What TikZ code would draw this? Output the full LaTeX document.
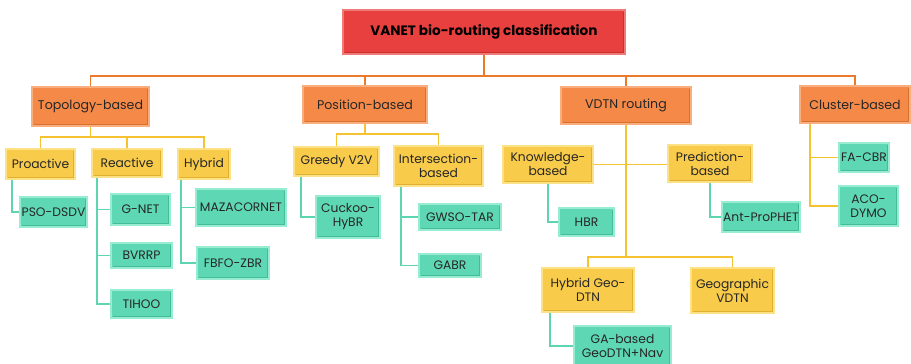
\documentclass[tikz,border=0pt]{standalone}
\usepackage{fontspec}
\setmainfont{Poppins}
\usetikzlibrary{calc}
\definecolor{rootF}{HTML}{E8403F}
\definecolor{rootB}{HTML}{F07A78}
\definecolor{rootD}{HTML}{C83030}
\definecolor{oraF}{HTML}{F58A48}
\definecolor{oraB}{HTML}{F9AE80}
\definecolor{oraD}{HTML}{D8702E}
\definecolor{yelF}{HTML}{F8CB4A}
\definecolor{yelB}{HTML}{FCE186}
\definecolor{yelD}{HTML}{E0B030}
\definecolor{teaF}{HTML}{5ED8B4}
\definecolor{teaB}{HTML}{98ECD2}
\definecolor{teaD}{HTML}{44BC98}
\definecolor{lnO}{HTML}{EA7A2C}
\definecolor{lnY}{HTML}{F5C232}
\definecolor{lnT}{HTML}{5ED4B0}
\definecolor{txt}{HTML}{262626}
\tikzset{
  base/.style={rectangle, inner sep=0pt, align=center, text=txt, font=\fontsize{12.3}{14}\selectfont, line width=1.6pt},
  bevel/.style={path picture={\draw[#1, line width=2pt] ([xshift=1.5pt,yshift=1pt]path picture bounding box.south west) -- ([xshift=-1pt,yshift=1pt]path picture bounding box.south east) -- ([xshift=-1pt,yshift=-1.5pt]path picture bounding box.north east);}},
  rootbox/.style={base, fill=rootF, draw=rootB, bevel=rootD, font=\fontsize{13.6}{15}\selectfont\bfseries, text=black},
  l1box/.style={base, fill=oraF, draw=oraB, bevel=oraD, font=\fontsize{12.6}{14}\selectfont},
  l2box/.style={base, fill=yelF, draw=yelB, bevel=yelD},
  l3box/.style={base, fill=teaF, draw=teaB, bevel=teaD},
  lo/.style={draw=lnO, line width=1.5pt},
  ly/.style={draw=lnY, line width=1.5pt},
  lt/.style={draw=lnT, line width=1.5pt},
}
\newcommand{\bx}[6]{\node[#1, minimum width=#4pt, minimum height=#5pt] (#2) at (#3) {#6};}
\begin{document}
\begin{tikzpicture}[x=1pt,y=-1pt]
\useasboundingbox[fill=white] (0,0) rectangle (911,364);
% level 0
\bx{rootbox}{root}{484,32}{282}{44}{VANET bio-routing classification}
% level 1
\bx{l1box}{topo}{90.5,106.5}{117}{39}{Topology-based}
\bx{l1box}{posi}{365,104.5}{124}{37}{Position-based}
\bx{l1box}{vdtn}{626,105.5}{130}{37}{VDTN routing}
\bx{l1box}{clus}{855,104.5}{110}{37}{Cluster-based}
% level 2
\bx{l2box}{proa}{40.5,164}{69}{30}{Proactive}
\bx{l2box}{reac}{127,163}{70}{28}{Reactive}
\bx{l2box}{hybr}{204,164}{52}{30}{Hybrid}
\bx{l2box}{gree}{336.5,161.5}{85}{29}{Greedy V2V}
\bx{l2box}{inte}{438.5,166}{89}{40}{Intersection-\\based}
\bx{l2box}{know}{548,164.5}{90}{37}{Knowledge-\\based}
\bx{l2box}{pred}{710,163.5}{84}{37}{Prediction-\\based}
\bx{l2box}{hgeo}{588,290}{92}{44}{Hybrid Geo-\\DTN}
\bx{l2box}{gvdt}{732.5,290.5}{83}{45}{Geographic\\VDTN}
% level 3
\bx{l3box}{psod}{53.5,212}{67}{30}{PSO-DSDV}
\bx{l3box}{gnet}{140.5,209.5}{59}{31}{G-NET}
\bx{l3box}{bvrr}{141.5,255.5}{61}{25}{BVRRP}
\bx{l3box}{tiho}{141.5,304}{61}{28}{TIHOO}
\bx{l3box}{maza}{241,207.5}{90}{37}{MAZACORNET}
\bx{l3box}{fbfo}{233,263}{72}{32}{FBFO-ZBR}
\bx{l3box}{cuck}{348,217}{64}{42}{Cuckoo-\\HyBR}
\bx{l3box}{gwso}{460,217}{82}{26}{GWSO-TAR}
\bx{l3box}{gabr}{450,265.5}{62}{23}{GABR}
\bx{l3box}{hbr}{586.5,222}{55}{28}{HBR}
\bx{l3box}{antp}{761,217}{78}{30}{Ant-ProPHET}
\bx{l3box}{gaba}{622.5,346}{97}{40}{GA-based\\GeoDTN+Nav}
\bx{l3box}{facb}{864,157.5}{50}{29}{FA-CBR}
\bx{l3box}{acod}{868.5,206}{59}{40}{ACO-\\DYMO}
% bus coordinates
\coordinate (bus0) at (484,76);
\coordinate (busT) at (90.5,137);
\coordinate (busP) at (365,134);
\coordinate (busV) at (626,257);
% level 0 -> 1
\draw[lo] (root.south) -- (bus0);
\draw[lo] (topo.north) |- (bus0) -| (clus.north);
\draw[lo] (posi.north) -- (posi.north |- bus0);
\draw[lo] (vdtn.north) -- (vdtn.north |- bus0);
% topology
\draw[ly] (topo.south) -- (busT);
\draw[ly] (proa.north) |- (busT) -| (hybr.north);
\draw[ly] (reac.north) -- (reac.north |- busT);
\draw[lt] ($(proa.south west)+(7,0)$) |- (psod.west);
\draw[lt] ($(reac.south west)+(6,0)$) |- (tiho.west);
\draw[lt] ($(reac.south west)+(6,0)$) |- (gnet.west);
\draw[lt] ($(reac.south west)+(6,0)$) |- (bvrr.west);
\draw[lt] ($(hybr.south west)+(4,0)$) |- (fbfo.west);
\draw[lt] ($(hybr.south west)+(4,0)$) |- (maza.west);
% position
\draw[ly] (posi.south) -- (busP);
\draw[ly] (gree.north) |- (busP) -| (inte.north);
\draw[lt] ($(gree.south west)+(8,0)$) |- (cuck.west);
\draw[lt] ($(inte.south west)+(8,0)$) |- (gabr.west);
\draw[lt] ($(inte.south west)+(8,0)$) |- (gwso.west);
% vdtn
\draw[ly] (vdtn.south) -- (busV);
\draw[ly] (know.east) -- (know.east -| pred.west);
\draw[ly] (hgeo.north) |- (busV) -| (gvdt.north);
\draw[lt] (know.south) |- (hbr.west);
\draw[lt] (pred.south) |- (antp.west);
\draw[lt] ($(hgeo.south west)+(9,0)$) |- (gaba.west);
% cluster
\draw[ly] ($(clus.south west)+(11,0)$) |- (acod.west);
\draw[ly] ($(clus.south west)+(11,0)$) |- (facb.west);
\end{tikzpicture}
\end{document}
